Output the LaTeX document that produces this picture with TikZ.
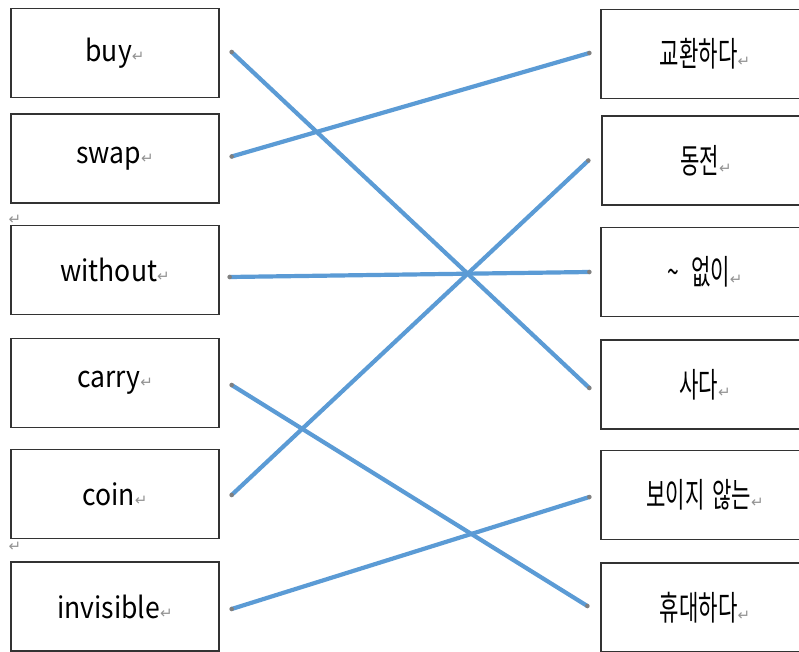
\documentclass[tikz,border=0pt]{standalone}
\usepackage{fontspec}
\setmainfont[FakeStretch=0.9]{Noto Sans CJK KR}
\newfontfamily\korfont[FakeStretch=0.62]{Noto Sans CJK KR}
\newfontfamily\markfont{DejaVu Sans}
\usepackage{xcolor}
\definecolor{lineblue}{HTML}{5B9BD5}
\newcommand{\retmark}{\textcolor{gray!85}{\markfont\fontsize{15}{15}\selectfont ↵}}

\tikzset{
  wordbox/.style={draw=black!80, line width=1.3pt, minimum width=208pt, minimum height=89pt, inner sep=0pt, font=\fontsize{29.5}{31}\selectfont},
  korbox/.style={wordbox, font=\korfont\fontsize{34}{36}\selectfont},
  matchline/.style={lineblue, line width=4.2pt}
}

\begin{document}
\begin{tikzpicture}[x=1pt,y=-1pt]
        \useasboundingbox (0,0) rectangle (799,652);
        \begin{scope}
            \clip (0,0) rectangle (799,652); % right and bottom boxes are cut off

            % English words
            \node[wordbox] (buy) at (115,53) {buy\retmark};
            \node[wordbox] (swap) at (115,158.5) {swap\retmark};
            \node[wordbox] (without) at (115,270) {without\retmark};
            \node[wordbox] (carry) at (115,383) {carry\retmark};
            \node[wordbox] (coin) at (115,494) {coin\retmark};
            \node[wordbox] (invisible) at (115,606.5) {invisible\retmark};
            \node[inner sep=0pt] (gapA) at (15,220) {\retmark};
            \node[inner sep=0pt] (gapB) at (15,547) {\retmark};

            % Korean words
            \node[korbox] (korSwap) at (705,54) {교환하다\retmark};
            \node[korbox] (korCoin) at (706,160.5) {동전\retmark};
            \node[korbox] (korWithout) at (705,272) {\textasciitilde\hspace{12pt}없이\retmark};
            \node[korbox] (korBuy) at (705,384.5) {사다\retmark};
            \node[korbox] (korInvisible) at (705,495) {보이지\hspace{8pt}않는\retmark};
            \node[korbox] (korCarry) at (705,607.5) {휴대하다\retmark};

            % line ends, a little off the boxes
            \coordinate (buyR) at ([xshift=12pt,yshift=1pt]buy.east);
            \coordinate (swapR) at ([xshift=12pt,yshift=2pt]swap.east);
            \coordinate (withoutR) at ([xshift=10pt,yshift=-7pt]without.east);
            \coordinate (carryR) at ([xshift=12pt,yshift=-2pt]carry.east);
            \coordinate (coinR) at ([xshift=12pt,yshift=-1pt]coin.east);
            \coordinate (invisibleR) at ([xshift=12pt,yshift=-2.5pt]invisible.east);
            \coordinate (korSwapL) at ([xshift=-11pt,yshift=1pt]korSwap.west);
            \coordinate (korCoinL) at ([xshift=-13pt]korCoin.west);
            \coordinate (korWithoutL) at ([xshift=-11pt]korWithout.west);
            \coordinate (korBuyL) at ([xshift=-11pt,yshift=-3.5pt]korBuy.west);
            \coordinate (korInvisibleL) at ([xshift=-11pt,yshift=-2pt]korInvisible.west);
            \coordinate (korCarryL) at ([xshift=-13pt,yshift=1.5pt]korCarry.west);

            \foreach \from/\to in {buyR/korBuyL, swapR/korSwapL, withoutR/korWithoutL,
                                   carryR/korCarryL, coinR/korCoinL, invisibleR/korInvisibleL}{
            \draw[matchline] (\from) -- (\to);      % the matching line
            \fill[gray] (\from) circle (2.3pt);     % and its two end dots
            \fill[gray] (\to) circle (2.3pt);
            }
        \end{scope}
    \end{tikzpicture}
\end{document}
